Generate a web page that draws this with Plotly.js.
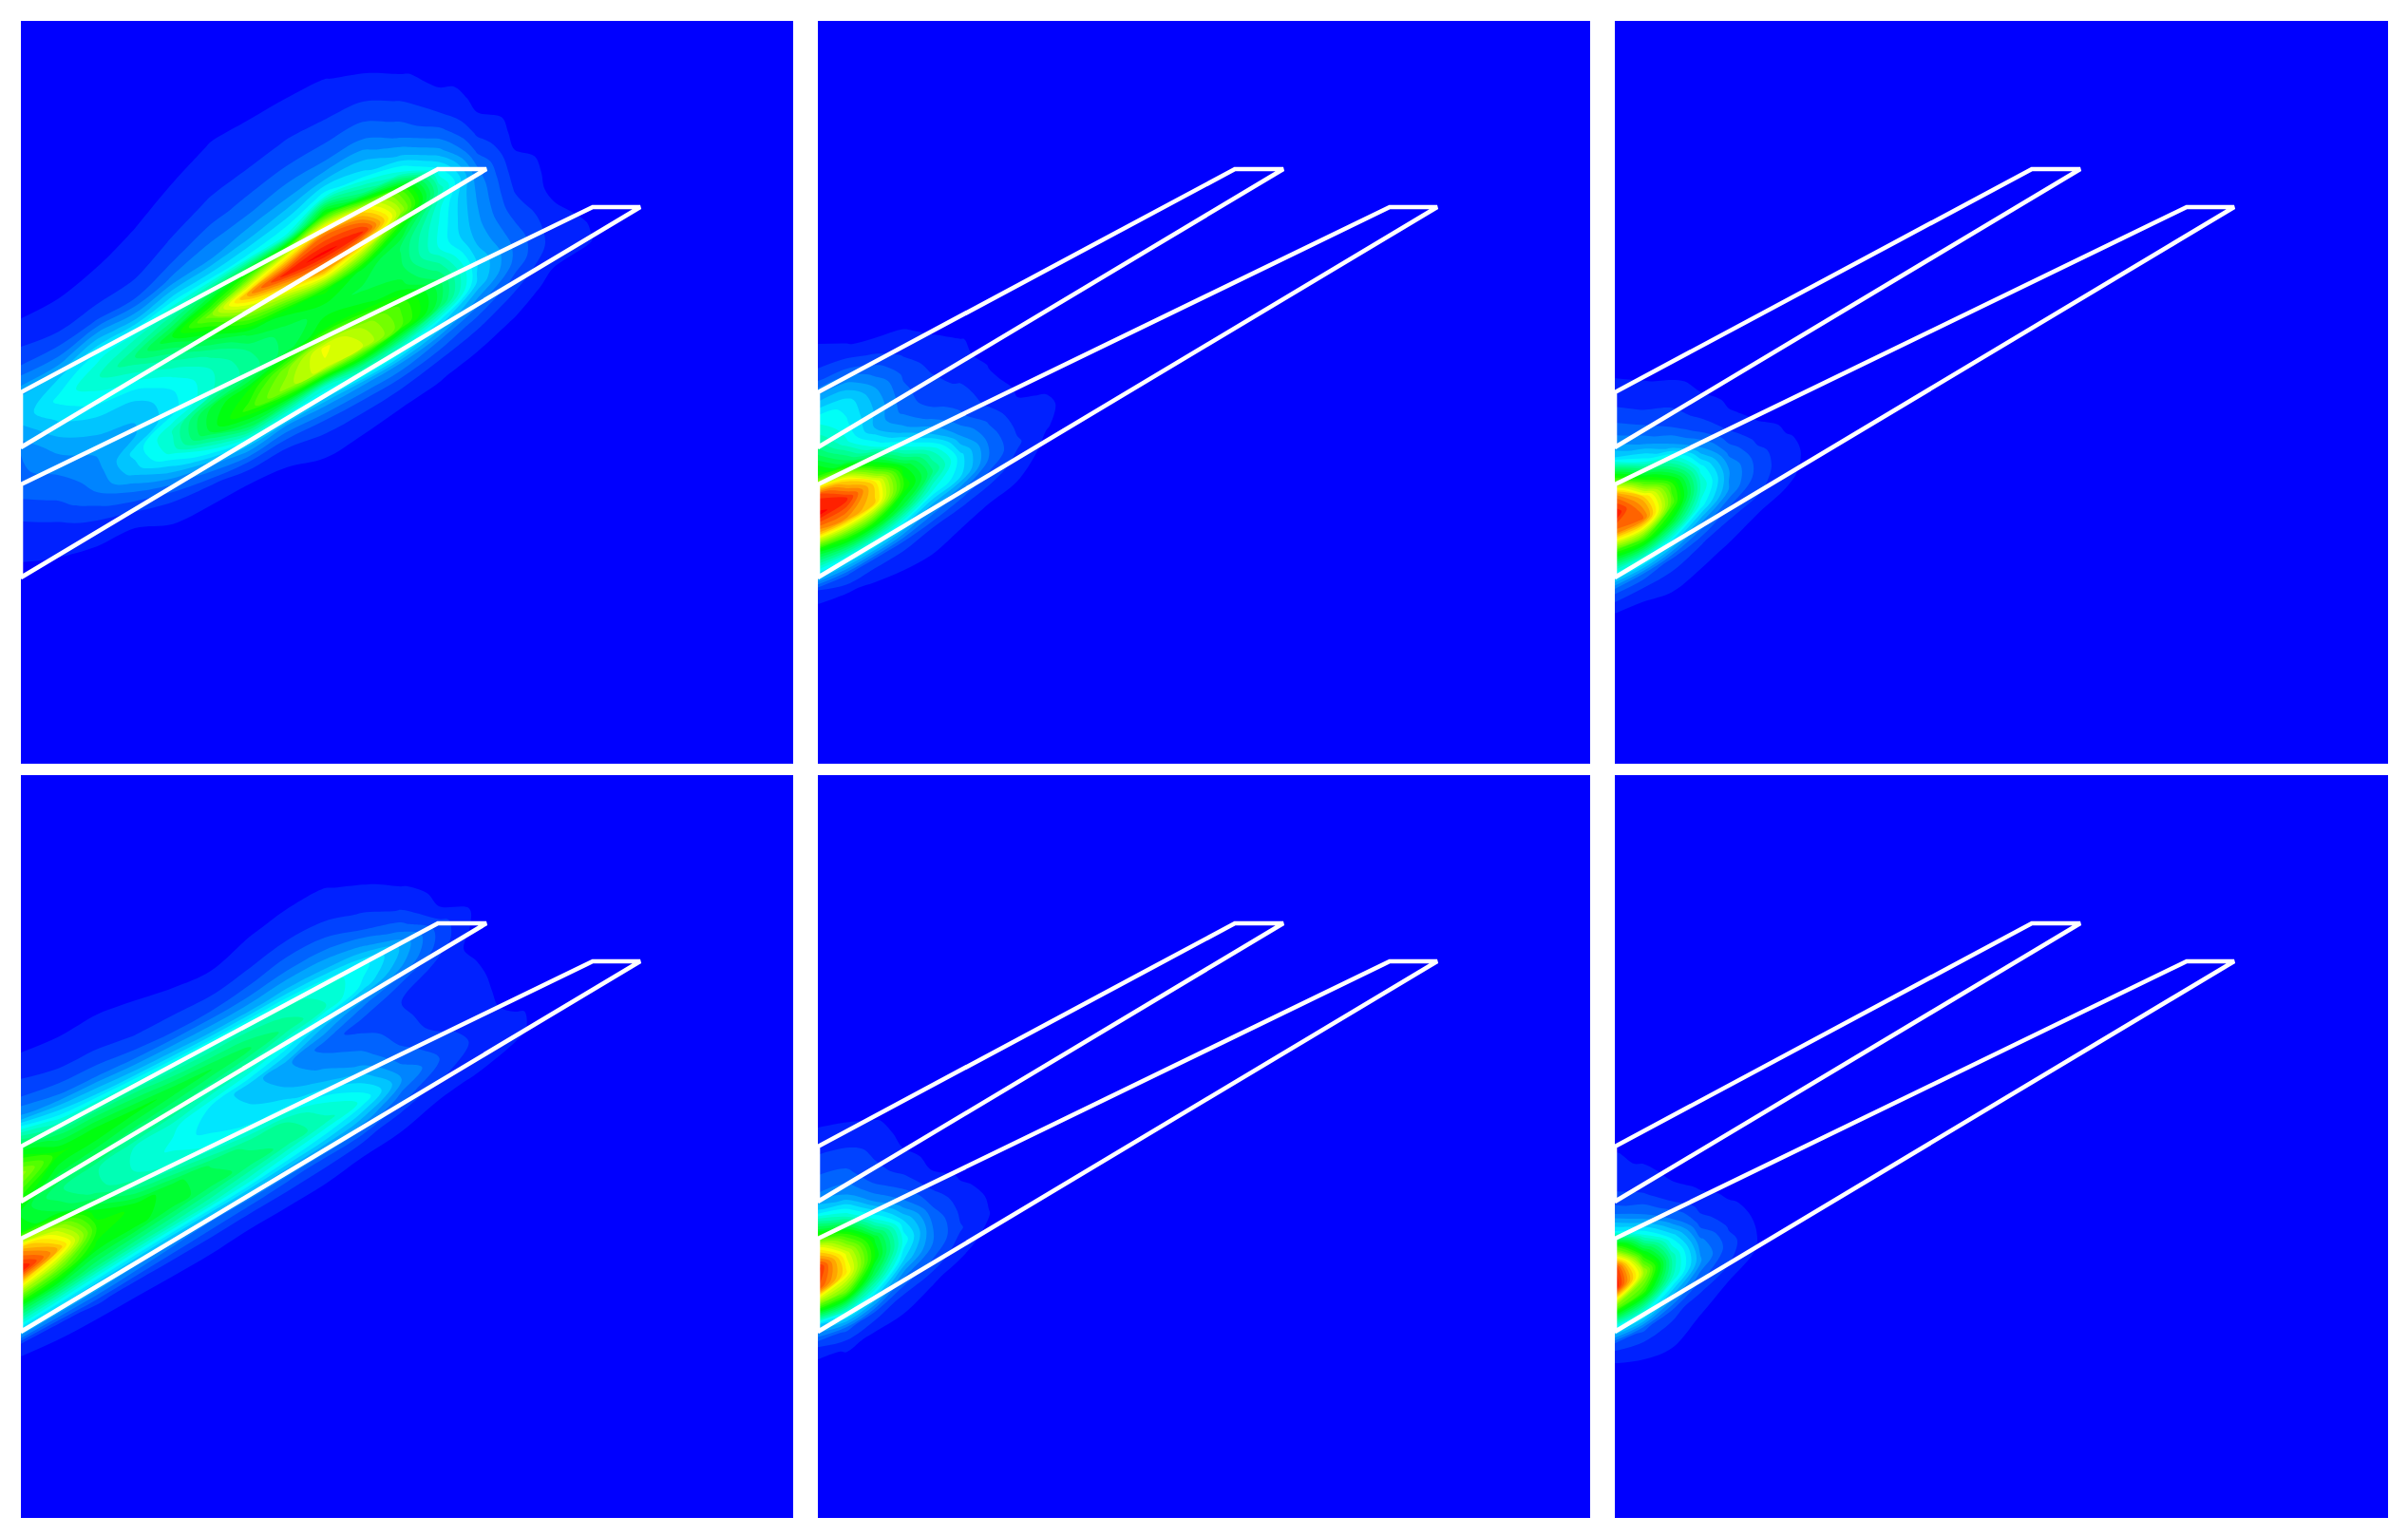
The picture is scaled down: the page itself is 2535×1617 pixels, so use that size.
<!DOCTYPE html>
<html><head><meta charset="utf-8">
<script src="https://cdn.plot.ly/plotly-3.0.1.min.js"></script>
<style>html,body{margin:0;padding:0;background:#fff}</style></head>
<body><div id="chart" style="width:2535px;height:1617px"></div>
<script>
// Field samples on grids sheared along the slat direction: position along x, and offset s = y + 0.55 x.
const largeX=[0,40,80,120,160,200,240,280,320,360,400,440,480,520,560,600,640];
const largeS=[220,240,260,280,300,320,340,360,380,400,420,440,460,480,500,520,540,560,580,600,620,640];
const smallX=[0,30,60,90,120,150,180,210,240,270];
const smallS=[340,360,380,400,420,440,460,480,500,520,540,560,580,600,620,640,660];
const shear=0.55;

const panel1Columns=[
[0,0,0,0,0,.018,.04,.07,.13,.19,.185,.145,.105,.1,.082,.053,.028,.017,.007,0,0,0],
[0,0,0,0,0,.017,.028,.065,.125,.21,.25,.215,.175,.14,.11,.088,.058,.03,.016,.004,0,0],
[0,0,0,0,.01,.022,.04,.08,.18,.265,.3,.26,.21,.175,.145,.127,.11,.065,.024,.01,0,0],
[0,0,0,.01,.019,.027,.047,.08,.17,.3,.37,.29,.22,.18,.17,.22,.19,.115,.05,.012,0,0],
[0,0,.013,.022,.031,.05,.075,.12,.22,.35,.47,.36,.28,.235,.23,.31,.29,.19,.09,.027,.01,0],
[0,.014,.022,.03,.05,.07,.105,.14,.23,.44,.62,.47,.35,.3,.3,.45,.45,.28,.13,.04,.012,0],
[0,.015,.024,.038,.058,.084,.118,.17,.25,.56,.85,.63,.45,.37,.35,.5,.55,.4,.17,.055,.012,0],
[0,.016,.028,.046,.066,.1,.14,.2,.28,.72,.98,.72,.48,.42,.42,.62,.65,.37,.14,.052,.015,0],
[0,.014,.028,.045,.07,.1,.16,.26,.53,.88,1,.82,.51,.45,.5,.74,.72,.31,.15,.062,.03,.008],
[0,0,.018,.04,.07,.103,.16,.22,.38,.8,.97,.7,.46,.43,.48,.66,.7,.38,.15,.065,.027,.005],
[0,0,0,.015,.038,.067,.1,.167,.28,.58,.66,.47,.4,.413,.45,.56,.58,.33,.145,.06,.02,0],
[0,0,0,0,0,.02,.047,.09,.155,.255,.33,.28,.27,.27,.35,.42,.42,.23,.105,.044,.014,0],
[0,0,0,0,0,0,0,.012,.035,.07,.115,.136,.145,.156,.176,.21,.205,.13,.063,.024,.005,0],
[0,0,0,0,0,0,0,0,0,0,.01,.025,.039,.055,.08,.1,.1,.062,.03,.01,0,0],
[0,0,0,0,0,0,0,0,0,0,0,0,0,0,.013,.024,.03,.018,.004,0,0,0],
[0,0,0,0,0,0,0,0,0,0,0,0,0,0,0,0,.01,.013,.005,0,0,0],
[0,0,0,0,0,0,0,0,0,0,0,0,0,0,0,0,0,0,0,0,0,0]
];
const panel4Columns=[
[0,0,0,0,.02,.045,.08,.15,.34,.51,.65,.55,.46,.49,.85,1,.72,.45,.25,.03,0,0],
[0,0,0,0,.014,.028,.06,.115,.24,.4,.51,.44,.375,.43,.68,.82,.63,.43,.22,.04,.005,0],
[0,0,0,0,.015,.027,.055,.105,.21,.39,.5,.42,.34,.35,.46,.53,.49,.38,.19,.048,.005,0],
[0,0,0,0,.01,.022,.045,.088,.19,.37,.48,.39,.3,.3,.36,.49,.48,.35,.16,.04,.005,0],
[0,0,0,0,0,.02,.043,.08,.18,.34,.46,.37,.28,.265,.31,.45,.45,.33,.13,.036,.005,0],
[0,0,0,0,0,.015,.04,.08,.17,.33,.44,.34,.235,.225,.27,.4,.42,.31,.11,.032,.004,0],
[0,0,0,0,.01,.025,.05,.09,.17,.33,.41,.31,.19,.21,.24,.36,.39,.28,.1,.022,.003,0],
[0,0,0,0,.016,.031,.065,.11,.18,.32,.36,.25,.15,.17,.22,.34,.36,.24,.085,.02,.002,0],
[0,0,0,0,.016,.03,.06,.11,.175,.29,.31,.175,.095,.13,.18,.27,.32,.21,.07,.017,.002,0],
[0,0,0,0,0,.018,.04,.075,.15,.255,.23,.115,.06,.095,.13,.2,.265,.17,.055,.012,0,0],
[0,0,0,0,0,0,.014,.04,.09,.17,.15,.075,.045,.055,.07,.1,.148,.095,.03,.007,0,0],
[0,0,0,0,0,0,0,0,.012,.06,.065,.035,.02,.023,.03,.055,.08,.05,.015,0,0,0],
[0,0,0,0,0,0,0,0,0,0,0,0,.012,.016,.02,.028,.035,.03,.01,0,0,0],
[0,0,0,0,0,0,0,0,0,0,0,0,0,0,0,0,.016,.017,.003,0,0,0],
[0,0,0,0,0,0,0,0,0,0,0,0,0,0,0,0,0,0,0,0,0,0],
[0,0,0,0,0,0,0,0,0,0,0,0,0,0,0,0,0,0,0,0,0,0],
[0,0,0,0,0,0,0,0,0,0,0,0,0,0,0,0,0,0,0,0,0,0]
];
const panel2Columns=[
[.012,.03,.08,.17,.26,.32,.42,.54,.95,1,.82,.46,.25,.04,0,0,0],
[0,.015,.065,.155,.23,.245,.28,.41,.78,.97,.86,.55,.28,.08,.01,0,0],
[0,0,.035,.09,.145,.17,.17,.26,.5,.78,.8,.54,.28,.07,.015,0,0],
[0,0,.017,.04,.07,.086,.1,.155,.29,.48,.535,.43,.22,.06,.02,0,0],
[0,0,0,.015,.028,.047,.057,.09,.17,.31,.38,.28,.14,.045,.02,0,0],
[0,0,0,0,.014,.02,.04,.063,.085,.145,.22,.22,.1,.027,.01,0,0],
[0,0,0,0,0,0,.01,.018,.035,.072,.1,.108,.062,.019,0,0,0],
[0,0,0,0,0,0,0,0,.008,.015,.035,.05,.033,.012,0,0,0],
[0,0,0,0,0,0,0,0,0,.01,.018,.014,.003,0,0,0,0],
[0,0,0,0,0,0,0,0,0,0,0,0,0,0,0,0,0]
];
const panel3Columns=[
[0,0,.015,.033,.07,.12,.21,.52,.88,1,.86,.53,.28,.09,.015,0,0],
[0,0,0,.016,.033,.072,.13,.26,.54,.82,.9,.6,.31,.095,.02,0,0],
[0,0,0,0,.022,.044,.075,.15,.35,.54,.59,.46,.24,.07,.03,.005,0],
[0,0,0,0,0,.012,.03,.068,.15,.26,.31,.26,.135,.048,.018,0,0],
[0,0,0,0,0,0,.005,.015,.05,.1,.145,.14,.07,.026,.008,0,0],
[0,0,0,0,0,0,0,0,.008,.032,.06,.064,.05,.013,.002,0,0],
[0,0,0,0,0,0,0,0,0,.005,.016,.025,.02,.005,0,0,0],
[0,0,0,0,0,0,0,0,0,0,0,0,0,0,0,0,0],
[0,0,0,0,0,0,0,0,0,0,0,0,0,0,0,0,0],
[0,0,0,0,0,0,0,0,0,0,0,0,0,0,0,0,0]
];
const panel5Columns=[
[0,0,.022,.045,.075,.11,.22,.46,.77,.98,.93,.57,.19,.05,0,0,0],
[0,0,.01,.03,.063,.09,.15,.29,.54,.72,.77,.61,.3,.085,.015,0,0],
[0,0,0,.015,.032,.046,.068,.13,.27,.46,.5,.4,.23,.063,.01,0,0],
[0,0,0,0,0,.01,.028,.062,.12,.215,.265,.21,.105,.033,.008,0,0],
[0,0,0,0,0,0,0,.009,.04,.078,.112,.112,.07,.015,0,0,0],
[0,0,0,0,0,0,0,0,.005,.02,.037,.048,.025,.003,0,0,0],
[0,0,0,0,0,0,0,0,0,0,.008,.013,.004,0,0,0,0],
[0,0,0,0,0,0,0,0,0,0,0,0,0,0,0,0,0],
[0,0,0,0,0,0,0,0,0,0,0,0,0,0,0,0,0],
[0,0,0,0,0,0,0,0,0,0,0,0,0,0,0,0,0]
];
const panel6Columns=[
[0,0,0,.014,.02,.047,.095,.24,.62,.97,1,.62,.27,.06,.01,0,0],
[0,0,0,0,.008,.022,.05,.115,.27,.5,.68,.56,.3,.085,.025,.003,0],
[0,0,0,0,0,0,.012,.04,.11,.235,.33,.32,.18,.055,.03,.008,0],
[0,0,0,0,0,0,0,.005,.027,.06,.12,.15,.085,.03,.01,0,0],
[0,0,0,0,0,0,0,0,.003,.017,.039,.059,.046,.01,0,0,0],
[0,0,0,0,0,0,0,0,0,0,.002,.01,.01,0,0,0,0],
[0,0,0,0,0,0,0,0,0,0,0,0,0,0,0,0,0],
[0,0,0,0,0,0,0,0,0,0,0,0,0,0,0,0,0],
[0,0,0,0,0,0,0,0,0,0,0,0,0,0,0,0,0],
[0,0,0,0,0,0,0,0,0,0,0,0,0,0,0,0,0]
];
const slat1X=[0,439,490,0];
const slat1Y=[391,156,156,449];
const slat2X=[0,602,652,0];
const slat2Y=[488,196,196,586];

const W=2535,H=1617;
const rects=[[22,835],[861,1674],[1700,2514]], rows=[[22,804],[816,1598]];
const panels=[
 {c:panel1Columns,a:largeX,b:largeS,col:0,row:0},
 {c:panel2Columns,a:smallX,b:smallS,col:1,row:0},
 {c:panel3Columns,a:smallX,b:smallS,col:2,row:0},
 {c:panel4Columns,a:largeX,b:largeS,col:0,row:1},
 {c:panel5Columns,a:smallX,b:smallS,col:1,row:1},
 {c:panel6Columns,a:smallX,b:smallS,col:2,row:1}
];
const jet=[[0,'rgb(0,0,255)'],[.25,'rgb(0,255,255)'],[.5,'rgb(0,255,0)'],[.75,'rgb(255,255,0)'],[1,'rgb(255,0,0)']];
const hiddenAxis={showgrid:false,minorgridcount:0,startline:false,endline:false,showticklabels:'none',showline:false,ticks:'',smoothing:1};
const data=[],layout={width:W,height:H,margin:{l:0,r:0,t:0,b:0},paper_bgcolor:'#fff',plot_bgcolor:'rgb(0,0,255)',showlegend:false};
panels.forEach((p,i)=>{
 const n=i===0?'':String(i+1);
 const [l,r]=rects[p.col],[t,b]=rows[p.row];
 layout['xaxis'+n]={domain:[l/W,r/W],range:[0,r-l],visible:false,fixedrange:true,anchor:'y'+n};
 layout['yaxis'+n]={domain:[1-b/H,1-t/H],range:[b-t,0],visible:false,fixedrange:true,anchor:'x'+n};
 const gx=p.b.map(()=>p.a.slice());
 const gy=p.b.map(s=>p.a.map(x=>s-shear*x));
 const z=p.b.map((_,j)=>p.a.map((_,k)=>p.c[k][j]));
 const cid='carpet'+i;
 data.push({type:'carpet',carpet:cid,a:p.a,b:p.b,x:gx,y:gy,xaxis:'x'+n,yaxis:'y'+n,
  aaxis:Object.assign({},hiddenAxis),baxis:Object.assign({},hiddenAxis)});
 data.push({type:'contourcarpet',carpet:cid,a:p.a,b:p.b,z:z,xaxis:'x'+n,yaxis:'y'+n,
  colorscale:jet,showscale:false,autocontour:false,
  contours:{coloring:'fill',start:.012,end:.99,size:.0326,showlines:false},
  line:{width:0,smoothing:1}});
 [[slat1X,slat1Y],[slat2X,slat2Y]].forEach(s=>{
  data.push({type:'scatter',mode:'lines',x:s[0].concat(s[0][0]),y:s[1].concat(s[1][0]),xaxis:'x'+n,yaxis:'y'+n,
   line:{color:'#fff',width:4.6,shape:'linear'},hoverinfo:'skip'});
 });
});
Plotly.newPlot('chart',data,layout,{displayModeBar:false,staticPlot:true});
</script></body></html>
